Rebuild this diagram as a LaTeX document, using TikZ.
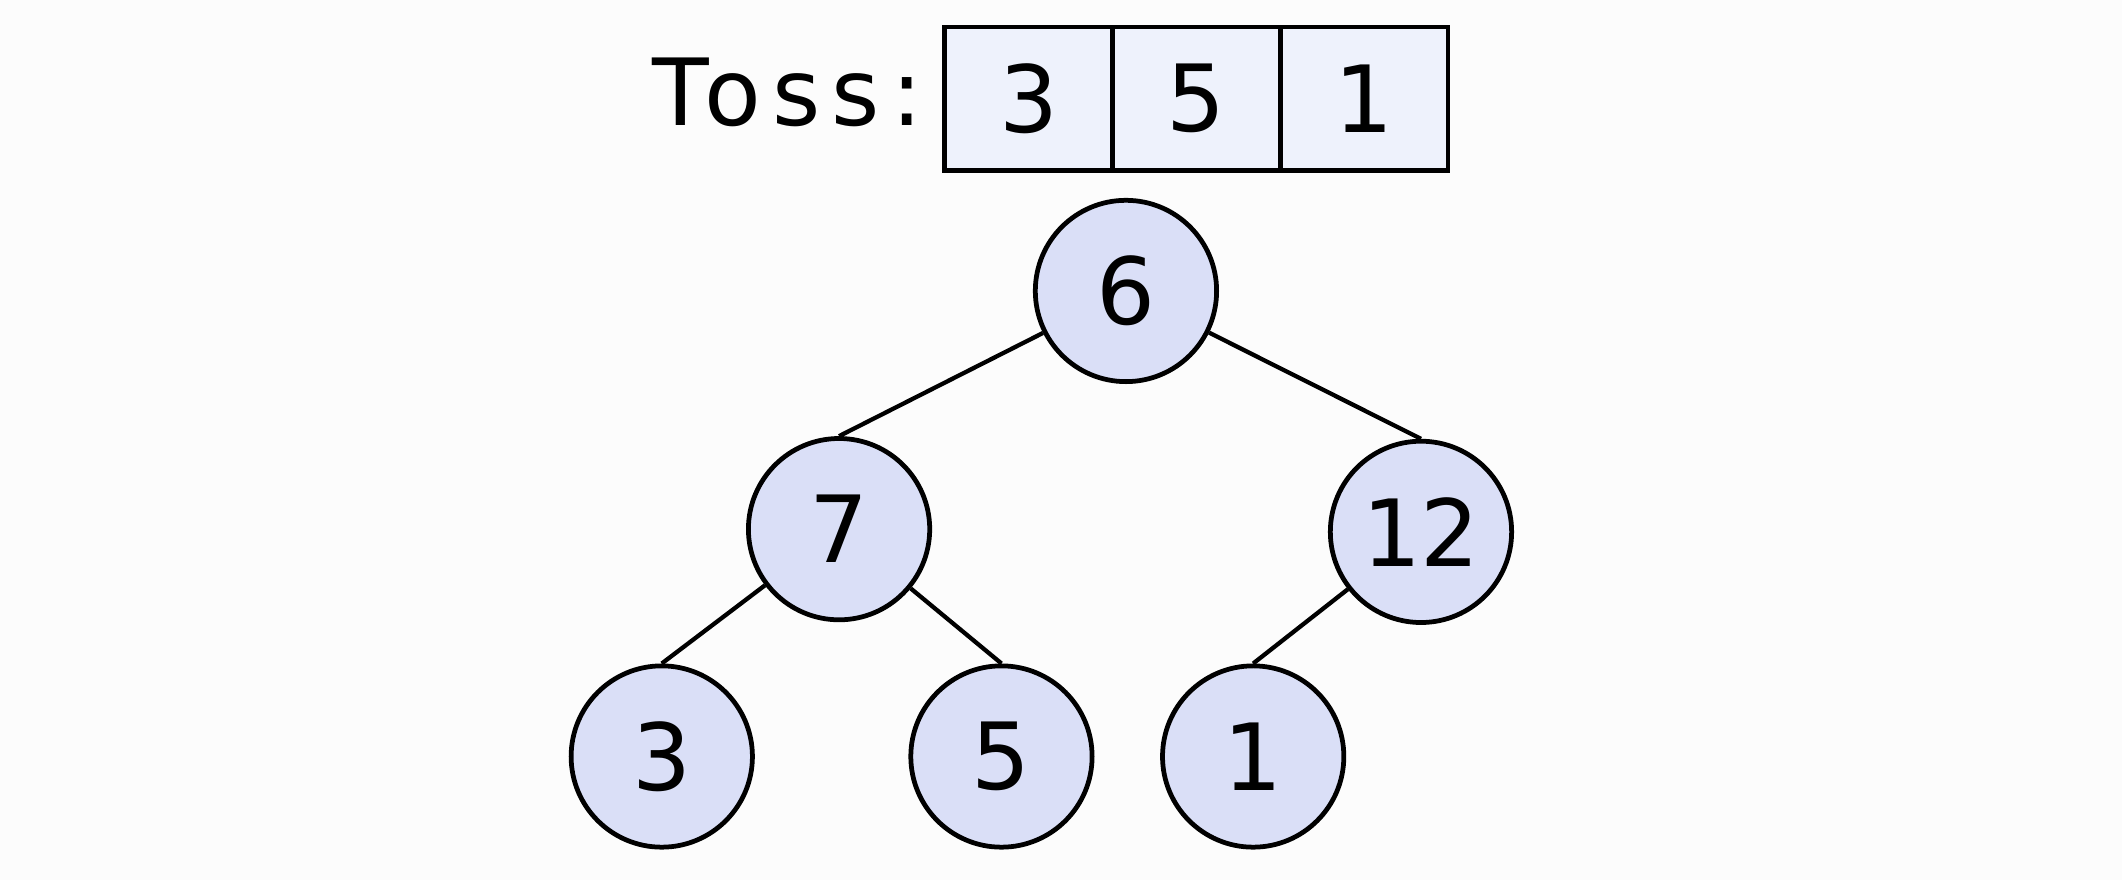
\documentclass[tikz,border=0pt]{standalone}
\usepackage{fontspec}
\setmainfont{DejaVu Sans}
\newfontfamily\tossfont[LetterSpace=12]{DejaVu Sans}
\usepackage{xcolor}
\definecolor{paper}{HTML}{FCFCFC}
\definecolor{cellfill}{HTML}{EEF2FC}
\definecolor{heapfill}{HTML}{DADFF7}
\tikzset{
  tosscell/.style={draw, line width=2pt, fill=cellfill, rectangle, inner sep=0pt,
    minimum width=2.48cm, minimum height=2.12cm},
  heapnode/.style={draw, line width=2pt, fill=heapfill, circle, inner sep=0pt,
    minimum size=2.68cm},
  heapedge/.style={line width=1.8pt}
}
\begin{document}
\begin{tikzpicture}[x=0.02cm, y=-0.02cm, font=\fontsize{39}{47}\selectfont]

    % Background and picture size
    \fill[paper] (0,0) rectangle (1568,650);
    \useasboundingbox (0,0) rectangle (1568,650);

    % Draw the row of tosses
    \node[anchor=east, inner sep=0pt, font=\fontsize{39}{47}\tossfont] (toss) at (682,68) {Toss:};
    \node[tosscell] (c1) at (760,73) {3};
    \node[tosscell] (c2) at (884,73) {5};
    \node[tosscell] (c3) at (1008,73) {1};

    % Draw the heap nodes
    \node[heapnode] (n6) at (832,215) {6};
    \node[heapnode] (n7) at (620,391) {7};
    \node[heapnode] (n12) at (1050,393) {12};
    \node[heapnode] (n3) at (489,559) {3};
    \node[heapnode] (n5) at (740,559) {5};
    \node[heapnode] (n1) at (926,559) {1};

    % Draw edges from each parent to its children
    \draw[heapedge] (n6) -- (n7.north);
    \draw[heapedge] (n6) -- (n12.north);
    \draw[heapedge] (n7) -- (n3.north);
    \draw[heapedge] (n7) -- (n5.north);
    \draw[heapedge] (n12) -- (n1.north);

\end{tikzpicture}
\end{document}
